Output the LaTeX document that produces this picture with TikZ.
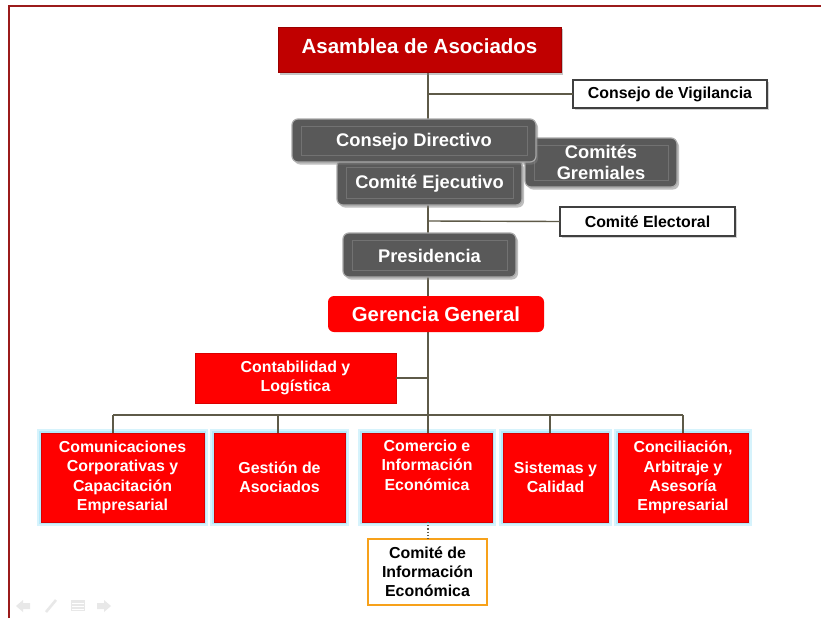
\documentclass[tikz,border=0pt]{standalone}
\usepackage{fontspec}
\setmainfont{Liberation Sans}
\usetikzlibrary{shadows}
\definecolor{darkred}{HTML}{C00000}
\definecolor{brightred}{HTML}{FF0000}
\definecolor{boxgray}{HTML}{595959}
\definecolor{edgegray}{HTML}{A8A8A8}
\definecolor{innergray}{HTML}{727272}
\definecolor{linecol}{HTML}{5E5A48}
\definecolor{framered}{HTML}{9B1B1B}
\definecolor{orangeb}{HTML}{F7A11A}
\definecolor{glow}{HTML}{B5E9FA}
\definecolor{navgray}{HTML}{E8E8E8}
\begin{document}
\begin{tikzpicture}[x=1pt,y=-1pt,
  every node/.style={font=\bfseries, inner sep=0pt, outer sep=0pt, align=center},
  topbox/.style={fill=darkred, draw=darkred!80!black, line width=0.6pt, text=white,
    font=\bfseries\fontsize{20.5}{24}\selectfont,
    drop shadow={opacity=0.45, shadow xshift=2pt, shadow yshift=-2.5pt}},
  whitebox/.style={fill=white, draw=black!75, line width=1.3pt,
    font=\bfseries\fontsize{15.9}{19}\selectfont,
    drop shadow={opacity=0.35, shadow xshift=2pt, shadow yshift=-2pt}},
  graybox/.style={fill=boxgray, draw=edgegray, line width=1.2pt, rounded corners=6pt,
    drop shadow={opacity=0.5, shadow xshift=2pt, shadow yshift=-2.5pt}},
  graytext/.style={text=white, font=\bfseries\fontsize{18.3}{21.5}\selectfont},
  redround/.style={fill=brightred, rounded corners=6pt, text=white,
    font=\bfseries\fontsize{20.3}{24}\selectfont},
  redbox/.style={fill=brightred, draw=brightred!85!black, line width=0.4pt, text=white,
    font=\bfseries\fontsize{15.9}{19.3}\selectfont},
  glowbox/.style={redbox,
    preaction={draw=glow!55, line width=8pt},
    preaction={draw=glow, line width=4.5pt}},
  orangebox/.style={fill=white, draw=orangeb, line width=2pt,
    font=\bfseries\fontsize{15.9}{19}\selectfont},
  conn/.style={draw=linecol, line width=1.4pt},
  innerline/.style={draw=innergray, line width=0.7pt}
]
\useasboundingbox (0,0) rectangle (821,618);
\fill[white] (0,0) rectangle (821,618);
% slide frame
\draw[framered, line width=2pt] (9,618) -- (9,6) -- (821,6);

% coordinates for the trunk
\coordinate (ttop) at (428,72);
\coordinate (bus) at (428,415);
\coordinate (busL) at (113,415);
\coordinate (busR) at (683,415);
\coordinate (jv) at (428,94);
\coordinate (je) at (428,221);
\coordinate (jc) at (428,378);
\coordinate (d1) at (113,415);
\coordinate (d2) at (278,415);
\coordinate (d3) at (428,415);
\coordinate (d4) at (550,415);
\coordinate (d5) at (683,415);

% trunk and bus (behind boxes)
\draw[conn] (ttop) -- (bus);
\draw[conn] (busL) -- (busR);

% Asamblea
\node[topbox, minimum width=283pt, minimum height=45pt] (asam) at (419.5,49.5) {};
\node[text=white, font=\bfseries\fontsize{20.5}{24}\selectfont] at ([yshift=3pt]asam.center) {Asamblea de Asociados};

% Consejo de Vigilancia
\node[whitebox, minimum width=194pt, minimum height=28pt] (vig) at (670,94) {Consejo de Vigilancia};
\draw[conn] (jv) -- (vig.west);

% gray boxes
\node[graybox, minimum width=185pt, minimum height=45pt] (ce) at (429.5,182.5) {};
\draw[innerline] ([xshift=9pt,yshift=-7pt]ce.north west) rectangle ([xshift=-9pt,yshift=7pt]ce.south east);
\node[graytext] at ([yshift=-1pt]ce.center) {Comité Ejecutivo};

\node[graybox, minimum width=152pt, minimum height=49pt] (cg) at (601,162.5) {};
\draw[innerline] ([xshift=9pt,yshift=-7pt]cg.north west) rectangle ([xshift=-9pt,yshift=7pt]cg.south east);
\node[graytext] at (cg.center) {Comités\\Gremiales};

\node[graybox, minimum width=244pt, minimum height=43pt] (cd) at (414,140.5) {};
\draw[innerline] ([xshift=9pt,yshift=-7pt]cd.north west) rectangle ([xshift=-9pt,yshift=7pt]cd.south east);
\node[graytext] at ([yshift=-1pt]cd.center) {Consejo Directivo};

% Comité Electoral
\node[whitebox, minimum width=175pt, minimum height=29pt] (elec) at (647.5,221.5) {Comité Electoral};
\draw[conn] (je) -- (elec.west);

% Presidencia
\node[graybox, minimum width=173pt, minimum height=44pt] (pres) at (429.5,255) {};
\draw[innerline] ([xshift=9pt,yshift=-7pt]pres.north west) rectangle ([xshift=-9pt,yshift=7pt]pres.south east);
\node[graytext] at ([yshift=-1pt]pres.center) {Presidencia};

% Gerencia General
\node[redround, minimum width=216pt, minimum height=36pt] (ger) at (436,314) {Gerencia General};

% Contabilidad
\node[redbox, minimum width=201pt, minimum height=50pt] (cont) at (295.5,378) {Contabilidad y\\Logística};
\draw[conn] (cont.east) -- (jc);

% bottom boxes
\node[glowbox, minimum width=163pt, minimum height=89pt] (b1) at (122.5,477.5) {Comunicaciones\\Corporativas y\\Capacitación\\Empresarial};
\node[glowbox, minimum width=131pt, minimum height=89pt] (b2) at (279.5,477.5) {Gestión de\\Asociados};
\node[glowbox, minimum width=130pt, minimum height=89pt] (b3) at (427,477.5) {Comercio e\\Información\\Económica\\\strut};
\node[glowbox, minimum width=105pt, minimum height=89pt] (b4) at (555.5,477.5) {Sistemas y\\Calidad};
\node[glowbox, minimum width=130pt, minimum height=89pt] (b5) at (683,477.5) {Conciliación,\\Arbitraje y\\Asesoría\\Empresarial};

\draw[conn] (d1) -- (d1 |- b1.north);
\draw[conn] (d2) -- (d2 |- b2.north);
\draw[conn] (d3) -- (d3 |- b3.north);
\draw[conn] (d4) -- (d4 |- b4.north);
\draw[conn] (d5) -- (d5 |- b5.north);

% Comité de Información Económica
\node[orangebox, minimum width=119pt, minimum height=66pt] (cie) at (427.5,572) {Comité de\\Información\\Económica};
\coordinate (dtop) at (428,522);
\draw[linecol, line width=1.2pt, dotted] (dtop) -- (dtop |- cie.north);

% navigation icons
\fill[navgray] (16,606) -- (23,600) -- (23,603) -- (30,603) -- (30,609) -- (23,609) -- (23,612) -- cycle;
\draw[navgray, line width=2.6pt] (46,612) -- (56,600);
\fill[navgray] (71,600) rectangle (85,611);
\draw[white, line width=0.8pt] (72,603) -- (84,603) (72,606) -- (84,606) (72,609) -- (84,609);
\fill[navgray] (111,606) -- (104,600) -- (104,603) -- (97,603) -- (97,609) -- (104,609) -- (104,612) -- cycle;
\end{tikzpicture}
\end{document}
